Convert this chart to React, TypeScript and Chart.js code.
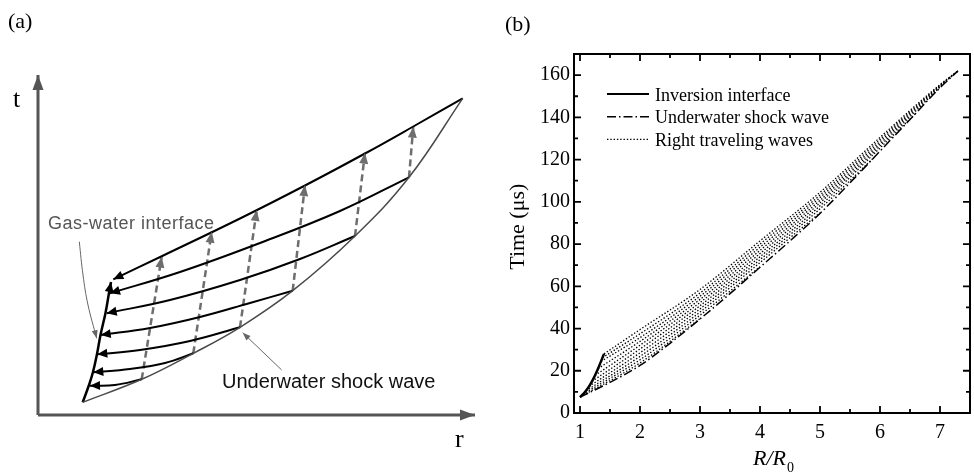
import React, { useEffect, useRef } from "react";
import { Chart, registerables } from "chart.js";
Chart.register(...registerables);

// ================= Panel (b) data =================
const R_TICKS = [1, 2, 3, 4, 5, 6, 7];
const R_MINOR = [1.5, 2.5, 3.5, 4.5, 5.5, 6.5];
const T_TICKS = [0, 20, 40, 60, 80, 100, 120, 140, 160];
const T_MINOR = [10, 30, 50, 70, 90, 110, 130, 150];
const SERIES_NAMES = ["Inversion interface", "Underwater shock wave", "Right traveling waves"];

const INTERFACE_R = [1.0, 1.1, 1.2, 1.3, 1.4];
const INTERFACE_T = [7.5, 10.5, 15, 21, 28];

const SHOCK_R = [1.0, 1.5, 2, 2.5, 3, 3.5, 4, 4.5, 5, 5.5, 6, 6.5, 7, 7.3];
const SHOCK_T = [7.5, 14.5, 22.5, 33, 44.5, 56.5, 69, 81.5, 94.5, 109, 124, 139, 154, 162];

const WAVE_R = [
  [1.0, 2, 3],
  [1.05, 2, 3, 4],
  [1.1, 2, 3, 4, 5],
  [1.15, 2, 3, 4, 5, 5.9],
  [1.2, 2, 3, 4, 5, 6, 6.6],
  [1.25, 2, 3, 4, 5, 6, 7],
  [1.3, 2, 3, 4, 5, 6, 7, 7.3],
  [1.35, 2, 3, 4, 5, 6, 7, 7.3],
  [1.375, 2, 3, 4, 5, 6, 7, 7.3],
  [1.4, 2, 3, 4, 5, 6, 7, 7.3],
];
const WAVE_T = [
  [7.5, 23.7, 44.7],
  [8.9, 25.2, 46.3, 69.3],
  [10.5, 26.8, 47.8, 71.2, 94.8],
  [12.6, 28.5, 49.3, 72.6, 96.7, 121],
  [15, 30.3, 50.8, 74, 98.1, 125.5, 142],
  [17.8, 32.1, 52.3, 75.5, 99.5, 126.5, 154.3],
  [21, 33.9, 53.8, 77, 100.7, 127.5, 154.6, 162],
  [24.4, 35.7, 55.3, 78.5, 102, 128.5, 155, 162],
  [26.2, 37.5, 56.8, 80, 103.2, 129.5, 155.2, 162],
  [28, 39.5, 58.5, 81.5, 104.5, 130.5, 155.5, 162],
];

// ================= Panel (a) schematic data (r, t in arbitrary units) =================
const SCH_AXIS_T = [[0, 0], [0, 34]];
const SCH_AXIS_R = [[0, 0], [43.7, 0]];
const SCH_SHOCK = [[4.47, 1.27], [10.37, 3.57], [15.53, 6.17], [20.2, 8.77], [25.47, 12.43], [31.7, 17.9], [37.1, 23.77], [42.47, 31.67]];
const SCH_INTERFACE = [[4.47, 1.27], [5.1, 3.0], [5.5, 4.3], [5.9, 6.1], [6.25, 8.0], [6.75, 10.2], [7.1, 12.2], [7.3, 13.3]];
const SCH_TOP = [[7.53, 13.57], [12.53, 15.95], [20.2, 19.65], [26.7, 22.95], [32.7, 26.15], [37.53, 28.85], [42.47, 31.67]];
const SCH_LEFT_WAVES = [
  [[7.2, 12.17], [14.2, 14.3], [22.2, 17.2], [30.2, 20.4], [37.1, 23.77]],
  [[6.87, 10.17], [13.2, 11.5], [20.2, 13.5], [26.2, 15.6], [31.7, 17.9]],
  [[6.27, 8.0], [11.2, 8.7], [16.2, 9.8], [21.2, 11.2], [25.47, 12.43]],
  [[5.93, 6.07], [10.2, 6.5], [15.2, 7.4], [20.2, 8.77]],
  [[5.53, 4.27], [9.2, 4.6], [12.7, 5.2], [15.53, 6.17]],
  [[5.2, 2.93], [7.7, 3.0], [10.37, 3.57]],
];
const SCH_RIGHT_WAVES = [
  [[10.37, 3.57], [12.37, 15.83]],
  [[15.53, 6.17], [17.37, 18.33]],
  [[20.2, 8.77], [21.87, 20.5]],
  [[25.47, 12.43], [26.7, 23.0]],
  [[31.7, 17.9], [32.7, 26.23]],
  [[37.1, 23.77], [37.53, 28.83]],
];
const SCH_PTR_INTERFACE = [[4.13, 17.33], [4.5, 14.0], [5.0, 11.0], [5.87, 7.67]];
const SCH_PTR_SHOCK = [[24.37, 4.5], [20.47, 8.23]];
const SCH_LABELS = { interface: "Gas-water interface", shock: "Underwater shock wave", t: "t", r: "r" };

const zip = (xs: number[], ys: number[]) => xs.map((x, i) => ({ x, y: ys[i] }));
const pts = (p: number[][]) => p.map(([x, y]) => ({ x, y }));

const SERIF = '"Liberation Serif", "Times New Roman", serif';
const SANS = '"Liberation Sans", Arial, sans-serif';

function drawArrowHead(ctx: CanvasRenderingContext2D, tip: any, from: any, len: number, half: number, color: string) {
  const dx = tip.x - from.x, dy = tip.y - from.y;
  const d = Math.hypot(dx, dy) || 1;
  const ux = dx / d, uy = dy / d;
  const bx = tip.x - ux * len, by = tip.y - uy * len;
  ctx.save();
  ctx.fillStyle = color;
  ctx.beginPath();
  ctx.moveTo(tip.x, tip.y);
  ctx.lineTo(bx - uy * half, by + ux * half);
  ctx.lineTo(bx + uy * half, by - ux * half);
  ctx.closePath();
  ctx.fill();
  ctx.restore();
}

const schematicPlugin = {
  id: "schematic",
  afterDatasetsDraw(chart: any) {
    const ctx = chart.ctx;
    chart.data.datasets.forEach((ds: any, i: number) => {
      if (!ds.arrow) return;
      const meta = chart.getDatasetMeta(i);
      const d = meta.data;
      if (d.length < 2) return;
      const tip = ds.arrow === "start" ? d[0] : d[d.length - 1];
      const from = ds.arrow === "start" ? d[1] : d[d.length - 2];
      drawArrowHead(ctx, tip, from, ds.arrowLen, ds.arrowHalf, ds.arrowColor || ds.borderColor);
    });
  },
  afterDraw(chart: any) {
    const ctx = chart.ctx;
    ctx.save();
    ctx.fillStyle = "#000";
    ctx.textAlign = "left";
    ctx.textBaseline = "alphabetic";
    ctx.font = `22px ${SERIF}`;
    ctx.fillText("(a)", 8, 28);
    ctx.font = `26px ${SERIF}`;
    ctx.fillText(SCH_LABELS.t, 13, 107);
    ctx.fillText(SCH_LABELS.r, 455, 447);
    ctx.fillStyle = "#555";
    ctx.font = `18px ${SANS}`;
    try { (ctx as any).letterSpacing = "0.5px"; } catch (e) {}
    ctx.fillText(SCH_LABELS.interface, 48, 229);
    try { (ctx as any).letterSpacing = "0px"; } catch (e) {}
    ctx.fillStyle = "#111";
    ctx.font = `20px ${SANS}`;
    ctx.fillText(SCH_LABELS.shock, 222, 388);
    ctx.restore();
  },
};

function lineDs(data: any[], color: string, width: number, extra: any = {}) {
  return {
    data,
    showLine: true,
    borderColor: color,
    backgroundColor: color,
    borderWidth: width,
    pointRadius: 0,
    pointHoverRadius: 0,
    fill: false,
    tension: 0.4,
    clip: false,
    ...extra,
  };
}

const frameB = {
  id: "frameB",
  afterDraw(chart: any) {
    const ctx = chart.ctx;
    const { left, right, top, bottom } = chart.chartArea;
    const xs = chart.scales.x, ys = chart.scales.y;
    ctx.save();
    ctx.strokeStyle = "#000";
    ctx.lineWidth = 2;
    ctx.strokeRect(left, top, right - left, bottom - top);
    ctx.lineWidth = 1.8;
    const tickX = (vals: number[], len: number) => {
      vals.forEach((v) => {
        const x = xs.getPixelForValue(v);
        ctx.beginPath();
        ctx.moveTo(x, bottom); ctx.lineTo(x, bottom - len);
        ctx.moveTo(x, top); ctx.lineTo(x, top + len);
        ctx.stroke();
      });
    };
    const tickY = (vals: number[], len: number) => {
      vals.forEach((v) => {
        const y = ys.getPixelForValue(v);
        ctx.beginPath();
        ctx.moveTo(left, y); ctx.lineTo(left + len, y);
        ctx.moveTo(right, y); ctx.lineTo(right - len, y);
        ctx.stroke();
      });
    };
    tickX(R_TICKS, 7); tickX(R_MINOR, 4);
    tickY(T_TICKS, 7); tickY(T_MINOR, 4);

    // panel label
    ctx.fillStyle = "#000";
    ctx.font = `22px ${SERIF}`;
    ctx.textAlign = "left";
    ctx.textBaseline = "alphabetic";
    ctx.fillText("(b)", 15, 31);

    // y title
    ctx.save();
    ctx.translate(28, 226.7);
    ctx.rotate(-Math.PI / 2);
    ctx.textAlign = "center";
    ctx.textBaseline = "middle";
    ctx.font = `22px ${SERIF}`;
    ctx.fillText("Time (\u03bcs)", 0, 0);
    ctx.restore();

    // x title R/R0
    ctx.font = `italic 22px ${SERIF}`;
    const main = "R/R";
    const wMain = ctx.measureText(main).width;
    ctx.font = `14px ${SERIF}`;
    const wSub = ctx.measureText("0").width;
    const x0 = 283 - (wMain + wSub) / 2;
    ctx.font = `italic 22px ${SERIF}`;
    ctx.fillText(main, x0, 465);
    ctx.font = `14px ${SERIF}`;
    ctx.fillText("0", x0 + wMain + 1, 472);

    // legend
    const rows = [94, 116.7, 139.3];
    const styles = [
      { w: 2, dash: [] as number[] },
      { w: 1.5, dash: [9, 3, 1.5, 3] },
      { w: 1.3, dash: [1.4, 1.9] },
    ];
    rows.forEach((y, i) => {
      ctx.save();
      ctx.strokeStyle = "#000";
      ctx.lineWidth = styles[i].w;
      ctx.setLineDash(styles[i].dash);
      ctx.beginPath();
      ctx.moveTo(117, y);
      ctx.lineTo(159, y);
      ctx.stroke();
      ctx.restore();
      ctx.font = `18px ${SERIF}`;
      ctx.fillStyle = "#000";
      ctx.textAlign = "left";
      ctx.textBaseline = "alphabetic";
      ctx.fillText(SERIES_NAMES[i], 165, y + 6.5);
    });
    ctx.restore();
  },
};

export default function App() {
  const refA = useRef<HTMLCanvasElement>(null);
  const refB = useRef<HTMLCanvasElement>(null);

  useEffect(() => {
    const gray = "#555";
    const dsA: any[] = [
      lineDs(pts(SCH_AXIS_T), gray, 3, { tension: 0, arrow: "end", arrowLen: 15, arrowHalf: 5.5 }),
      lineDs(pts(SCH_AXIS_R), gray, 3, { tension: 0, arrow: "end", arrowLen: 15, arrowHalf: 5.5 }),
      lineDs(pts(SCH_SHOCK), "#4a4a4a", 1.5),
      lineDs(pts(SCH_INTERFACE), "#000", 2.5, { arrow: "end", arrowLen: 10, arrowHalf: 4.5 }),
      lineDs(pts(SCH_TOP), "#000", 2, { arrow: "start", arrowLen: 10, arrowHalf: 4.5 }),
      ...SCH_LEFT_WAVES.map((w) => lineDs(pts(w), "#000", 2, { arrow: "start", arrowLen: 10, arrowHalf: 4.5 })),
      ...SCH_RIGHT_WAVES.map((w) =>
        lineDs(pts(w), "#6e6e6e", 2.5, { tension: 0, borderDash: [7, 4], arrow: "end", arrowLen: 11, arrowHalf: 4.5 })
      ),
      lineDs(pts(SCH_PTR_INTERFACE), "#666", 1, { arrow: "end", arrowLen: 8, arrowHalf: 3 }),
      lineDs(pts(SCH_PTR_SHOCK), "#666", 1, { tension: 0, arrow: "end", arrowLen: 8, arrowHalf: 3 }),
    ];

    const chartA = new Chart(refA.current as HTMLCanvasElement, {
      type: "scatter",
      data: { datasets: dsA },
      options: {
        responsive: false,
        animation: false,
        events: [],
        layout: { padding: 0 },
        plugins: { legend: { display: false }, tooltip: { enabled: false } },
        scales: {
          x: { type: "linear", display: false, min: -3.8, max: 45.2 },
          y: { type: "linear", display: false, min: -6.1, max: 41.5 },
        },
      },
      plugins: [schematicPlugin],
    } as any);

    const dsB: any[] = [
      ...WAVE_R.map((r, i) =>
        lineDs(zip(r, WAVE_T[i]), "#000", 1.3, { cubicInterpolationMode: "monotone", borderDash: [1.4, 1.9] })
      ),
      lineDs(zip(SHOCK_R, SHOCK_T), "#000", 1.5, { cubicInterpolationMode: "monotone", borderDash: [9, 3, 1.5, 3] }),
      lineDs(zip(INTERFACE_R, INTERFACE_T), "#000", 2.5, { cubicInterpolationMode: "monotone" }),
    ];

    const chartB = new Chart(refB.current as HTMLCanvasElement, {
      type: "scatter",
      data: { datasets: dsB },
      options: {
        responsive: false,
        animation: false,
        events: [],
        layout: { padding: { top: 54, right: 4, left: 0, bottom: 0 } },
        plugins: { legend: { display: false }, tooltip: { enabled: false } },
        scales: {
          x: {
            type: "linear",
            min: 0.9,
            max: 7.5,
            grid: { display: false, drawTicks: false },
            border: { display: false },
            ticks: { color: "#000", font: { family: SERIF, size: 20 }, padding: 8, maxRotation: 0, autoSkip: false },
            afterBuildTicks: (s: any) => { s.ticks = R_TICKS.map((v) => ({ value: v })); },
            afterFit: (s: any) => { s.height = 63; },
          },
          y: {
            type: "linear",
            min: 0,
            max: 170,
            grid: { display: false, drawTicks: false },
            border: { display: false },
            ticks: { color: "#000", font: { family: SERIF, size: 20 }, padding: 4, autoSkip: false },
            afterBuildTicks: (s: any) => { s.ticks = T_TICKS.map((v) => ({ value: v })); },
            afterFit: (s: any) => { s.width = 84; },
          },
        },
      },
      plugins: [frameB],
    } as any);

    return () => {
      chartA.destroy();
      chartB.destroy();
    };
  }, []);

  return (
    <div style={{ position: "absolute", left: 0, top: 0, width: 974, height: 476, background: "#fff" }}>
      <canvas ref={refA} width={490} height={476} style={{ position: "absolute", left: 0, top: 0, width: 490, height: 476 }} />
      <canvas ref={refB} width={484} height={476} style={{ position: "absolute", left: 490, top: 0, width: 484, height: 476 }} />
    </div>
  );
}
